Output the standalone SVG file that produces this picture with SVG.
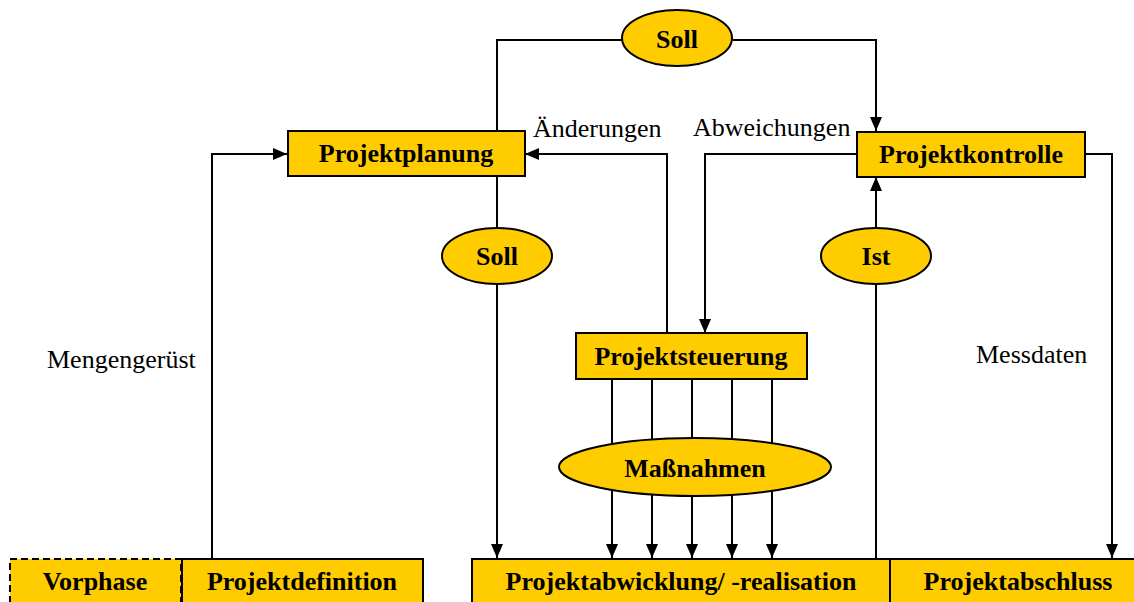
<svg xmlns="http://www.w3.org/2000/svg" width="1134" height="602" viewBox="0 0 1134 602">
<style>
.box{fill:#FFCC00;stroke:#000;stroke-width:2}
.ell{fill:#FFCC00;stroke:#000;stroke-width:2}
.lbl{font-family:"Liberation Serif","Times New Roman",serif;font-size:26px;font-weight:bold;text-anchor:middle;fill:#000}
.txt{font-family:"Liberation Serif","Times New Roman",serif;font-size:26px;fill:#000}
.ln{fill:none;stroke:#000;stroke-width:2}
</style>
<defs>
<marker id="ah" viewBox="0 0 14 12" refX="14" refY="6" markerWidth="14" markerHeight="12" markerUnits="userSpaceOnUse" orient="auto">
<path d="M0,0 L14,6 L0,12 z" fill="#000"/>
</marker>
</defs>
<rect width="1134" height="602" fill="#fff"/>
<g id="connectors">
<path class="ln" d="M497,131 V40 H622"/>
<path class="ln" d="M733,40 H876 V131" marker-end="url(#ah)"/>
<path class="ln" d="M212,558 V154 H287" marker-end="url(#ah)"/>
<path class="ln" d="M497,176 V227"/>
<path class="ln" d="M497,284 V558" marker-end="url(#ah)"/>
<path class="ln" d="M667,333 V154 H525" marker-end="url(#ah)"/>
<path class="ln" d="M857,154 H705 V333" marker-end="url(#ah)"/>
<path class="ln" d="M876,228 V177" marker-end="url(#ah)"/>
<path class="ln" d="M876,284 V558"/>
<path class="ln" d="M1085,154 H1112 V558" marker-end="url(#ah)"/>
<path class="ln" d="M612,379 V558" marker-end="url(#ah)"/>
<path class="ln" d="M652,379 V558" marker-end="url(#ah)"/>
<path class="ln" d="M692,379 V558" marker-end="url(#ah)"/>
<path class="ln" d="M732,379 V558" marker-end="url(#ah)"/>
<path class="ln" d="M772,379 V558" marker-end="url(#ah)"/>
<text class="txt" x="533" y="137">Änderungen</text>
<text class="txt" x="693" y="136">Abweichungen</text>
<text class="txt" x="47" y="368">Mengengerüst</text>
<text class="txt" x="976" y="363">Messdaten</text>
</g>
<g id="soll-top"><ellipse class="ell" cx="677" cy="38" rx="55" ry="28"/><text class="lbl" x="677" y="48">Soll</text></g>
<g id="projektplanung"><rect class="box" x="288" y="131" width="237" height="45"/><text class="lbl" x="406" y="162">Projektplanung</text></g>
<g id="projektkontrolle"><rect class="box" x="857" y="132" width="228" height="45"/><text class="lbl" x="971" y="163">Projektkontrolle</text></g>
<g id="soll-mid"><ellipse class="ell" cx="497" cy="256" rx="55" ry="28"/><text class="lbl" x="497" y="265">Soll</text></g>
<g id="ist"><ellipse class="ell" cx="876" cy="256" rx="55" ry="28"/><text class="lbl" x="876" y="265">Ist</text></g>
<g id="projektsteuerung"><rect class="box" x="576" y="333" width="231" height="46"/><text class="lbl" x="691" y="365">Projektsteuerung</text></g>
<g id="massnahmen"><ellipse class="ell" cx="695" cy="467" rx="136" ry="29"/><text class="lbl" x="695" y="477">Maßnahmen</text></g>
<g id="vorphase"><rect class="box" x="10" y="559" width="171" height="60" stroke-dasharray="7,4"/><text class="lbl" x="95" y="590">Vorphase</text></g>
<g id="projektdefinition"><rect class="box" x="182" y="559" width="241" height="60"/><text class="lbl" x="302" y="590">Projektdefinition</text></g>
<g id="projektabwicklung"><rect class="box" x="472" y="559" width="418" height="60"/><text class="lbl" x="681" y="590">Projektabwicklung/ -realisation</text></g>
<g id="projektabschluss"><rect class="box" x="890" y="559" width="260" height="60"/><text class="lbl" x="1018" y="590">Projektabschluss</text></g>
</svg>
